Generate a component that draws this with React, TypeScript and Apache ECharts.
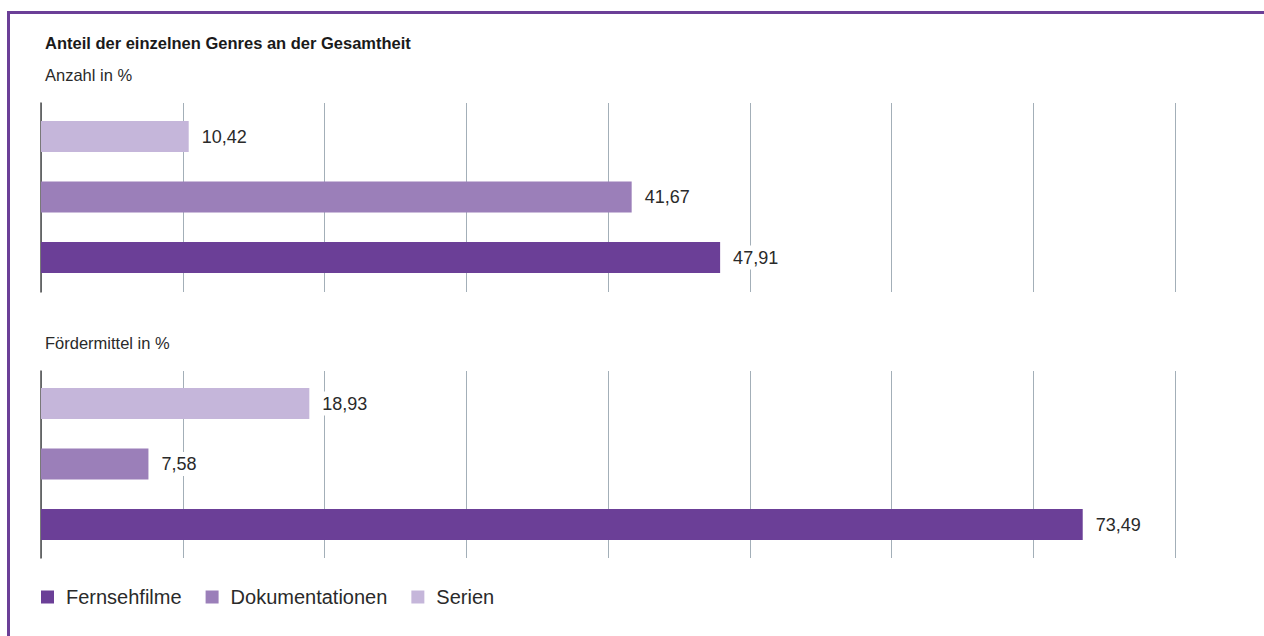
import React, { useEffect, useRef } from "react";
import * as echarts from "echarts";

const categories = ["Fernsehfilme", "Dokumentationen", "Serien"];
const anzahlValues = [47.91, 41.67, 10.42];
const foerderValues = [73.49, 7.58, 18.93];
const colors = ["#6b3f97", "#9b7fb9", "#c5b6da"];
const titleText = "Anteil der einzelnen Genres an der Gesamtheit";
const subTitles = ["Anzahl in %", "Fördermittel in %"];
const axisMax = 80;
const axisStep = 10;

const FONT = "'Liberation Sans', Arial, sans-serif";

function fmt(v: number) {
  return v.toFixed(2).replace(".", ",");
}

export default function App() {
  const ref = useRef<HTMLDivElement>(null);
  useEffect(() => {
    if (!ref.current) return;
    const chart = echarts.init(ref.current, undefined, { renderer: "svg" });
    const frames = [
      { top: 103, height: 189 },
      { top: 371, height: 187 },
    ];
    const barGrids = [
      { top: 106.25, height: 181.5 },
      { top: 373.25, height: 181.5 },
    ];
    const grids: any[] = [];
    const xAxes: any[] = [];
    const yAxes: any[] = [];
    frames.forEach((f) => {
      grids.push({ left: 41, width: 1134, top: f.top, height: f.height, containLabel: false });
    });
    barGrids.forEach((f) => {
      grids.push({ left: 41, width: 1134, top: f.top, height: f.height, containLabel: false });
    });
    for (let i = 0; i < 4; i++) {
      const isFrame = i < 2;
      xAxes.push({
        type: "value",
        gridIndex: i,
        min: 0,
        max: axisMax,
        interval: axisStep,
        axisLine: { show: false },
        axisTick: { show: false },
        axisLabel: { show: false },
        splitLine: isFrame
          ? { show: true, lineStyle: { color: "#a3afb8", width: 1 } }
          : { show: false },
      });
      yAxes.push(
        isFrame
          ? {
              type: "value",
              gridIndex: i,
              min: 0,
              max: 1,
              axisLine: { show: true, lineStyle: { color: "#4d4d4d", width: 1.5 } },
              axisTick: { show: false },
              axisLabel: { show: false },
              splitLine: { show: false },
            }
          : {
              type: "category",
              gridIndex: i,
              data: categories,
              axisLine: { show: false },
              axisTick: { show: false },
              axisLabel: { show: false },
              splitLine: { show: false },
            }
      );
    }
    const series: any[] = [];
    [anzahlValues, foerderValues].forEach((vals, gi) => {
      categories.forEach((name, ci) => {
        const data = categories.map((_, k) => (k === ci ? vals[ci] : null));
        series.push({
          type: "bar",
          name,
          xAxisIndex: gi + 2,
          yAxisIndex: gi + 2,
          data,
          barWidth: 31,
          barGap: "-100%",
          itemStyle: { color: colors[ci] },
          z: 3,
          label: {
            show: true,
            position: "right",
            distance: 9,
            color: "#2a2a2a",
            fontFamily: FONT,
            fontSize: 18,
            backgroundColor: "#ffffff",
            padding: [3, 4, 3, 4],
            formatter: (p: any) => fmt(p.value),
          },
        });
      });
    });
    chart.setOption({
      animation: false,
      title: [
        {
          text: titleText,
          left: 45,
          top: 34,
          padding: 0,
          textStyle: { fontFamily: FONT, fontSize: 16.5, fontWeight: "bold", color: "#1a1a1a" },
        },
        {
          text: subTitles[0],
          left: 45,
          top: 66,
          padding: 0,
          textStyle: { fontFamily: FONT, fontSize: 16.5, fontWeight: "normal", color: "#2a2a2a" },
        },
        {
          text: subTitles[1],
          left: 45,
          top: 334,
          padding: 0,
          textStyle: { fontFamily: FONT, fontSize: 16.5, fontWeight: "normal", color: "#2a2a2a" },
        },
      ],
      legend: {
        data: categories,
        left: 41,
        top: 587,
        icon: "rect",
        itemWidth: 13,
        itemHeight: 13,
        itemGap: 24,
        padding: 0,
        textStyle: { fontFamily: FONT, fontSize: 20, color: "#2a2a2a", padding: [0, 0, 0, 7] },
      },
      grid: grids,
      xAxis: xAxes,
      yAxis: yAxes,
      series,
    });
    return () => chart.dispose();
  }, []);
  return (
    <div style={{ position: "absolute", left: 0, top: 0, width: 1264, height: 636, overflow: "hidden", background: "#fff" }}>
      <div
        style={{
          position: "absolute",
          left: 7,
          top: 11,
          width: 1300,
          height: 700,
          borderLeft: "3px solid #6b3f97",
          borderTop: "3px solid #6b3f97",
          boxSizing: "border-box",
        }}
      />
      <div ref={ref} style={{ position: "absolute", left: 0, top: 0, width: 1264, height: 636 }} />
    </div>
  );
}
